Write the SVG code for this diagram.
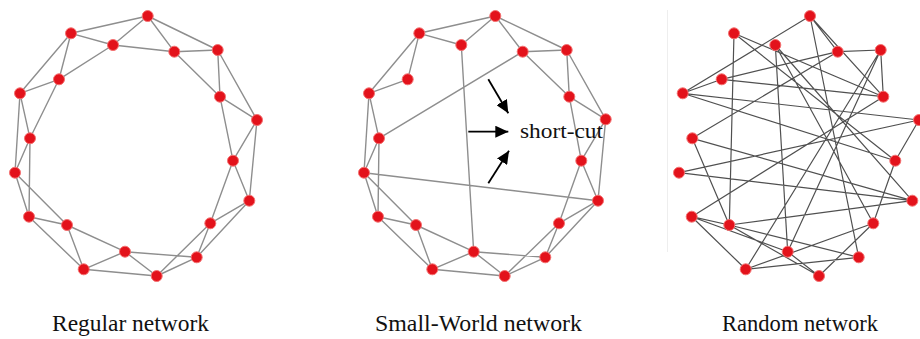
<svg xmlns="http://www.w3.org/2000/svg" width="920" height="339" viewBox="0 0 920 339">
  <style>
    .edge { stroke: #8e8e8e; stroke-width: 1.4; fill: none; }
    .redge { stroke: #505050; stroke-width: 1.2; fill: none; }
    .node { fill: #e3121b; stroke: #f47070; stroke-width: 1; }
    .label { font-family: "Liberation Serif", "Times New Roman", serif; font-size: 22.5px; fill: #111; }
    .note { font-family: "Liberation Serif", "Times New Roman", serif; font-size: 22px; fill: #111; }
    .arrow { stroke: #000; stroke-width: 1.8; fill: none; marker-end: url(#head); }
  </style>
  <defs>
    <marker id="head" markerUnits="userSpaceOnUse" markerWidth="14" markerHeight="12" refX="13" refY="6" orient="auto">
      <path d="M0,0 L13,6 L0,12 z" fill="#000"/>
    </marker>
  </defs>
  <rect width="920" height="339" fill="#fff"/>
  <line x1="667.5" y1="10" x2="667.5" y2="252" stroke="#eeeeee" stroke-width="1"/>

  <!-- Regular ring lattice: every node linked to its two nearest neighbours on each side -->
  <g id="regular-edges">
    <path class="edge" d="M71,33.3L113,45 M71,33.3L147.7,16 M71,33.3L59,79.3 M71,33.3L20,93.3
      M113,45L147.7,16 M113,45L174.3,51.7 M113,45L59,79.3
      M147.7,16L174.3,51.7 M147.7,16L217.7,50
      M174.3,51.7L217.7,50 M174.3,51.7L220,96.7
      M217.7,50L220,96.7 M217.7,50L257,120
      M220,96.7L257,120 M220,96.7L233,160.7
      M257,120L233,160.7 M257,120L249.3,200.7
      M233,160.7L249.3,200.7 M233,160.7L210.3,223.3
      M249.3,200.7L210.3,223.3 M249.3,200.7L196.7,257.3
      M210.3,223.3L196.7,257.3 M210.3,223.3L156.7,276
      M196.7,257.3L156.7,276 M196.7,257.3L125,251.7
      M156.7,276L125,251.7 M156.7,276L83.7,269.3
      M125,251.7L83.7,269.3 M125,251.7L67,225
      M83.7,269.3L67,225 M83.7,269.3L29,216.7
      M67,225L29,216.7 M67,225L15,172.7
      M29,216.7L15,172.7 M29,216.7L30,138.3
      M15,172.7L30,138.3 M15,172.7L20,93.3
      M30,138.3L20,93.3 M30,138.3L59,79.3
      M20,93.3L59,79.3"/>
  </g>
  <g id="regular-nodes">
    <g id="reg-a"><circle class="node" cx="147.7" cy="16" r="5.5"/></g>
    <g id="reg-b"><circle class="node" cx="71" cy="33.3" r="5.5"/></g>
    <g id="reg-c"><circle class="node" cx="113" cy="45" r="5.5"/></g>
    <g id="reg-d"><circle class="node" cx="174.3" cy="51.7" r="5.5"/></g>
    <g id="reg-e"><circle class="node" cx="217.7" cy="50" r="5.5"/></g>
    <g id="reg-f"><circle class="node" cx="59" cy="79.3" r="5.5"/></g>
    <g id="reg-g"><circle class="node" cx="20" cy="93.3" r="5.5"/></g>
    <g id="reg-h"><circle class="node" cx="220" cy="96.7" r="5.5"/></g>
    <g id="reg-i"><circle class="node" cx="257" cy="120" r="5.5"/></g>
    <g id="reg-j"><circle class="node" cx="30" cy="138.3" r="5.5"/></g>
    <g id="reg-k"><circle class="node" cx="233" cy="160.7" r="5.5"/></g>
    <g id="reg-l"><circle class="node" cx="15" cy="172.7" r="5.5"/></g>
    <g id="reg-m"><circle class="node" cx="249.3" cy="200.7" r="5.5"/></g>
    <g id="reg-n"><circle class="node" cx="29" cy="216.7" r="5.5"/></g>
    <g id="reg-o"><circle class="node" cx="67" cy="225" r="5.5"/></g>
    <g id="reg-p"><circle class="node" cx="210.3" cy="223.3" r="5.5"/></g>
    <g id="reg-q"><circle class="node" cx="125" cy="251.7" r="5.5"/></g>
    <g id="reg-r"><circle class="node" cx="196.7" cy="257.3" r="5.5"/></g>
    <g id="reg-s"><circle class="node" cx="83.7" cy="269.3" r="5.5"/></g>
    <g id="reg-t"><circle class="node" cx="156.7" cy="276" r="5.5"/></g>
  </g>

  <!-- Small-world: the lattice with three links rewired into short-cuts -->
  <g id="smallworld-edges">
    <path class="edge" d="M419.3,33.3L461.3,45 M419.3,33.3L495.3,16 M419.3,33.3L407.7,79.3 M419.3,33.3L369,93.3
      M461.3,45L495.3,16 M461.3,45L473.7,251.7
      M495.3,16L522.7,51.7 M495.3,16L566.7,50
      M522.7,51.7L566.7,50 M522.7,51.7L569.3,96.7 M522.7,51.7L379,138.3
      M566.7,50L569.3,96.7 M566.7,50L605.7,119.3
      M569.3,96.7L605.7,119.3 M569.3,96.7L581.3,160.7
      M605.7,119.3L581.3,160.7 M605.7,119.3L598,200.7
      M581.3,160.7L598,200.7 M581.3,160.7L559,223.3
      M598,200.7L559,223.3 M598,200.7L545.3,257.3 M598,200.7L364,172.7
      M559,223.3L545.3,257.3 M559,223.3L504.7,276
      M545.3,257.3L504.7,276 M545.3,257.3L473.7,251.7
      M504.7,276L473.7,251.7 M504.7,276L432.3,269.3
      M473.7,251.7L432.3,269.3 M473.7,251.7L416,225
      M432.3,269.3L416,225 M432.3,269.3L378,216.7
      M416,225L378,216.7 M416,225L364,172.7
      M378,216.7L364,172.7 M378,216.7L379,138.3
      M364,172.7L379,138.3 M364,172.7L369,93.3
      M379,138.3L369,93.3
      M369,93.3L407.7,79.3"/>
  </g>
  <g id="smallworld-nodes">
    <g id="sw-a"><circle class="node" cx="495.3" cy="16" r="5.5"/></g>
    <g id="sw-b"><circle class="node" cx="419.3" cy="33.3" r="5.5"/></g>
    <g id="sw-c"><circle class="node" cx="461.3" cy="45" r="5.5"/></g>
    <g id="sw-d"><circle class="node" cx="522.7" cy="51.7" r="5.5"/></g>
    <g id="sw-e"><circle class="node" cx="566.7" cy="50" r="5.5"/></g>
    <g id="sw-f"><circle class="node" cx="407.7" cy="79.3" r="5.5"/></g>
    <g id="sw-g"><circle class="node" cx="369" cy="93.3" r="5.5"/></g>
    <g id="sw-h"><circle class="node" cx="569.3" cy="96.7" r="5.5"/></g>
    <g id="sw-i"><circle class="node" cx="605.7" cy="119.3" r="5.5"/></g>
    <g id="sw-j"><circle class="node" cx="379" cy="138.3" r="5.5"/></g>
    <g id="sw-k"><circle class="node" cx="581.3" cy="160.7" r="5.5"/></g>
    <g id="sw-l"><circle class="node" cx="364" cy="172.7" r="5.5"/></g>
    <g id="sw-m"><circle class="node" cx="598" cy="200.7" r="5.5"/></g>
    <g id="sw-n"><circle class="node" cx="378" cy="216.7" r="5.5"/></g>
    <g id="sw-o"><circle class="node" cx="416" cy="225" r="5.5"/></g>
    <g id="sw-p"><circle class="node" cx="559" cy="223.3" r="5.5"/></g>
    <g id="sw-q"><circle class="node" cx="473.7" cy="251.7" r="5.5"/></g>
    <g id="sw-r"><circle class="node" cx="545.3" cy="257.3" r="5.5"/></g>
    <g id="sw-s"><circle class="node" cx="432.3" cy="269.3" r="5.5"/></g>
    <g id="sw-t"><circle class="node" cx="504.7" cy="276" r="5.5"/></g>
  </g>
  <g id="shortcut-note">
    <line class="arrow" x1="488.3" y1="79.3" x2="508.3" y2="113.3"/>
    <line class="arrow" x1="468.3" y1="131.7" x2="508.3" y2="131.7"/>
    <line class="arrow" x1="488.3" y1="183.3" x2="509" y2="150.7"/>
    <text class="note" x="520" y="138.3" textLength="83" lengthAdjust="spacingAndGlyphs">short-cut</text>
  </g>

  <!-- Random graph: every link rewired -->
  <g id="random-edges">
    <path class="redge" d="M810,16L682.7,93.3 M810,16L837.7,51.7 M810,16L883.3,96.7 M810,16L858.7,257.3
      M734,33.3L729.3,225 M734,33.3L883.3,96.7 M734,33.3L895.3,160.7
      M775.3,45L787.7,251.7 M775.3,45L873.3,223.3 M775.3,45L912.3,200.7
      M837.7,51.7L880.7,50 M837.7,51.7L721.7,79.3 M837.7,51.7L692.3,138.3
      M880.7,50L883.3,96.7 M880.7,50L745.7,269.3 M880.7,50L787.7,251.7
      M721.7,79.3L682.7,93.3 M721.7,79.3L883.3,96.7
      M682.7,93.3L919,120 M682.7,93.3L895.3,160.7
      M692.3,138.3L729.3,225 M692.3,138.3L912.3,200.7
      M679,172.7L919,120 M679,172.7L912.3,200.7
      M691.7,216.7L729.3,225 M691.7,216.7L745.7,269.3 M691.7,216.7L787.7,251.7 M691.7,216.7L883.3,96.7
      M729.3,225L912.3,200.7 M729.3,225L858.7,257.3 M729.3,225L819,276
      M745.7,269.3L873.3,223.3 M745.7,269.3L858.7,257.3
      M819,276L873.3,223.3 M819,276L787.7,251.7
      M895.3,160.7L873.3,223.3 M895.3,160.7L919,120"/>
  </g>
  <g id="random-nodes">
    <g id="rnd-a"><circle class="node" cx="810" cy="16" r="5.5"/></g>
    <g id="rnd-b"><circle class="node" cx="734" cy="33.3" r="5.5"/></g>
    <g id="rnd-c"><circle class="node" cx="775.3" cy="45" r="5.5"/></g>
    <g id="rnd-d"><circle class="node" cx="837.7" cy="51.7" r="5.5"/></g>
    <g id="rnd-e"><circle class="node" cx="880.7" cy="50" r="5.5"/></g>
    <g id="rnd-f"><circle class="node" cx="721.7" cy="79.3" r="5.5"/></g>
    <g id="rnd-g"><circle class="node" cx="682.7" cy="93.3" r="5.5"/></g>
    <g id="rnd-h"><circle class="node" cx="883.3" cy="96.7" r="5.5"/></g>
    <g id="rnd-i"><circle class="node" cx="919" cy="120" r="5.5"/></g>
    <g id="rnd-j"><circle class="node" cx="692.3" cy="138.3" r="5.5"/></g>
    <g id="rnd-k"><circle class="node" cx="895.3" cy="160.7" r="5.5"/></g>
    <g id="rnd-l"><circle class="node" cx="679" cy="172.7" r="5.5"/></g>
    <g id="rnd-m"><circle class="node" cx="912.3" cy="200.7" r="5.5"/></g>
    <g id="rnd-n"><circle class="node" cx="691.7" cy="216.7" r="5.5"/></g>
    <g id="rnd-o"><circle class="node" cx="729.3" cy="225" r="5.5"/></g>
    <g id="rnd-p"><circle class="node" cx="873.3" cy="223.3" r="5.5"/></g>
    <g id="rnd-q"><circle class="node" cx="787.7" cy="251.7" r="5.5"/></g>
    <g id="rnd-r"><circle class="node" cx="858.7" cy="257.3" r="5.5"/></g>
    <g id="rnd-s"><circle class="node" cx="745.7" cy="269.3" r="5.5"/></g>
    <g id="rnd-t"><circle class="node" cx="819" cy="276" r="5.5"/></g>
  </g>

  <g id="captions">
    <text class="label" x="52" y="331" textLength="157" lengthAdjust="spacingAndGlyphs">Regular network</text>
    <text class="label" x="375" y="331" textLength="207" lengthAdjust="spacingAndGlyphs">Small-World network</text>
    <text class="label" x="722" y="331" textLength="156" lengthAdjust="spacingAndGlyphs">Random network</text>
  </g>
</svg>
